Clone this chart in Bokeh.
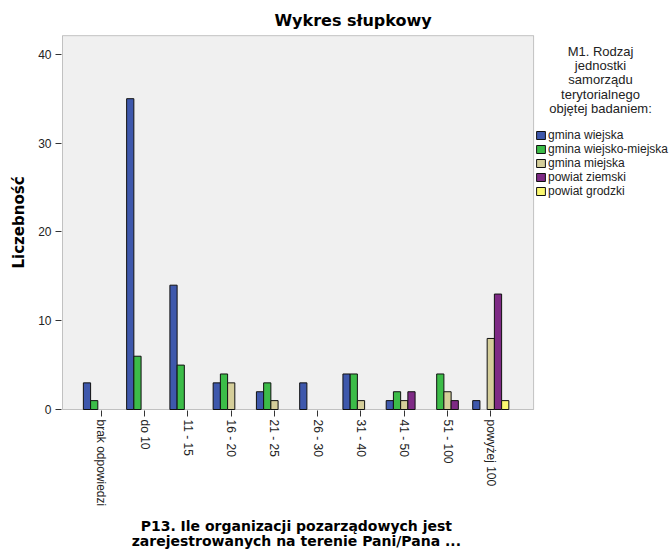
import math
from bokeh.plotting import figure
from bokeh.models import (ColumnDataSource, Range1d, FixedTicker, Legend, LegendItem,
                          BoxAnnotation, Label)
from bokeh.embed import file_html
from bokeh.resources import INLINE

categories = ["brak odpowiedzi", "do 10", "11 - 15", "16 - 20", "21 - 25",
              "26 - 30", "31 - 40", "41 - 50", "51 - 100", "powyżej 100"]
series_names = ["gmina wiejska", "gmina wiejsko-miejska", "gmina miejska",
                "powiat ziemski", "powiat grodzki"]
gmina_wiejska = [3, 35, 14, 3, 2, 3, 4, 1, 0, 1]
gmina_wiejsko_miejska = [1, 6, 5, 4, 3, 0, 4, 2, 4, 0]
gmina_miejska = [0, 0, 0, 3, 1, 0, 1, 1, 2, 8]
powiat_ziemski = [0, 0, 0, 0, 0, 0, 0, 2, 1, 13]
powiat_grodzki = [0, 0, 0, 0, 0, 0, 0, 0, 0, 1]
y_ticks = [0, 10, 20, 30, 40]
legend_title_lines = ["M1. Rodzaj", "jednostki", "samorządu", "terytorialnego",
                      "objętej badaniem:"]
title_text = "Wykres słupkowy"
x_title_lines = ["P13. Ile organizacji pozarządowych jest",
                 "zarejestrowanych na terenie Pani/Pana ..."]
y_title = "Liczebność"

colors = ["#3E58AC", "#3CBC48", "#D5CE9A", "#7E2A85", "#FBF870"]
all_series = [gmina_wiejska, gmina_wiejsko_miejska, gmina_miejska,
              powiat_ziemski, powiat_grodzki]

FONT = "Liberation Sans"
BFONT = "DejaVu Sans"
NB = "\u00a0"

# plot area (grey box) spans x -0.9..9.99 and y 0..42.1
X0, X1 = -0.9, 9.99
Y1 = 42.1
PX_X = 43.26   # px per category
PX_Y = 8.88    # px per count unit

p = figure(width=672, height=554, output_backend="svg", toolbar_location=None,
           x_range=Range1d(X0 - 1 / PX_X, X0 - 1 / PX_X + 611 / PX_X),
           y_range=Range1d(-1 / PX_Y, -1 / PX_Y + 376 / PX_Y),
           min_border_left=61, min_border_right=0, min_border_top=34,
           min_border_bottom=144)
p.background_fill_color = "white"
p.border_fill_color = "white"
p.outline_line_color = None
p.xgrid.visible = False
p.ygrid.visible = False

p.add_layout(BoxAnnotation(left=X0, right=X1, bottom=0, top=Y1,
                           fill_color="#F0F0F0", fill_alpha=1,
                           line_color="#444444", line_width=1, level="underlay"))

# title
p.title.text = title_text + NB * 5
p.title.align = "center"
p.title.standoff = 10
p.title.text_font = BFONT
p.title.text_font_size = "16px"
p.title.text_font_style = "bold"
p.title.text_color = "#000000"

bw = 0.167
items = []
for k, (name, vals, col) in enumerate(zip(series_names, all_series, colors)):
    xs = [i + (k - 2) * bw for i, v in enumerate(vals) if v > 0]
    ys = [v for v in vals if v > 0]
    src = ColumnDataSource(dict(x=xs, top=ys))
    r = p.vbar(x="x", top="top", width=bw, bottom=0, source=src,
               fill_color=col, line_color="#111111", line_width=1)
    items.append(LegendItem(label=name, renderers=[r]))

# axes
p.xaxis.ticker = FixedTicker(ticks=list(range(len(categories))))
p.xaxis.major_label_overrides = {i: c for i, c in enumerate(categories)}
p.xaxis.major_label_orientation = -math.pi / 2
p.xaxis.minor_tick_line_color = None
p.xaxis.major_tick_in = 0
p.xaxis.major_tick_out = 6
p.xaxis.axis_line_color = None
p.xaxis.major_tick_line_color = "#333333"
p.xaxis.major_label_text_font = FONT
p.xaxis.major_label_text_font_size = "12px"
p.xaxis.major_label_text_color = "#222222"
p.xaxis.major_label_standoff = 3
p.xaxis.axis_label = "\n".join(line + NB * 29 for line in x_title_lines)
p.xaxis.axis_label_text_font = BFONT
p.xaxis.axis_label_text_font_size = "14px"
p.xaxis.axis_label_text_font_style = "bold"
p.xaxis.axis_label_text_color = "#000000"
p.xaxis.axis_label_text_line_height = 0.95
p.xaxis.axis_label_standoff = 9

p.yaxis.ticker = FixedTicker(ticks=y_ticks)
p.yaxis.minor_tick_line_color = None
p.yaxis.major_tick_in = 0
p.yaxis.major_tick_out = 6
p.yaxis.axis_line_color = None
p.yaxis.major_tick_line_color = "#333333"
p.yaxis.major_label_text_font = FONT
p.yaxis.major_label_text_font_size = "12px"
p.yaxis.major_label_text_color = "#222222"
p.yaxis.major_label_standoff = 4
p.yaxis.axis_label = y_title
p.yaxis.axis_label_text_font = BFONT
p.yaxis.axis_label_text_font_size = "15px"
p.yaxis.axis_label_text_font_style = "bold"
p.yaxis.axis_label_text_color = "#000000"
p.yaxis.axis_label_standoff = 7

# legend title (inside the frame, right of the grey box)
for j, line in enumerate(legend_title_lines):
    p.add_layout(Label(x=539, y=410 - (51 + j * 14.2), x_units="screen", y_units="screen",
                       text=line, text_align="center", text_baseline="middle",
                       text_font=FONT, text_font_size="13px",
                       text_color="#222222"))

legend = Legend(items=items, location=(474, 212), orientation="vertical",
                glyph_width=11, glyph_height=10, label_height=14, spacing=0,
                padding=0, margin=0, label_standoff=2,
                label_text_font=FONT, label_text_font_size="12px",
                label_text_color="#222222",
                background_fill_alpha=0, border_line_alpha=0)
p.add_layout(legend, "center")

open("out.html", "w").write(file_html(p, INLINE))
